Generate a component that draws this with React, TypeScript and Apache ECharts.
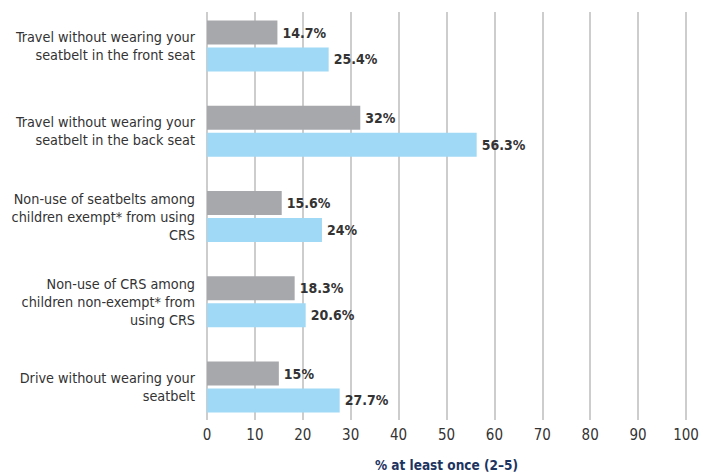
import React, { useEffect, useRef } from "react";
import * as echarts from "echarts";

const categories = [
  "Travel without wearing your\nseatbelt in the front seat",
  "Travel without wearing your\nseatbelt in the back seat",
  "Non-use of seatbelts among\nchildren exempt* from using\nCRS",
  "Non-use of CRS among\nchildren non-exempt* from\nusing CRS",
  "Drive without wearing your\nseatbelt",
];
const grayValues = [14.7, 32, 15.6, 18.3, 15];
const blueValues = [25.4, 56.3, 24, 20.6, 27.7];
const xTicks = { min: 0, max: 100, interval: 10 };
const axisTitle = "% at least once (2–5)";

const FONT = "'DejaVu Sans Condensed', 'Liberation Sans Narrow', sans-serif";

export default function App() {
  const ref = useRef<HTMLDivElement>(null);
  useEffect(() => {
    if (!ref.current) return;
    const chart = echarts.init(ref.current, null, { renderer: "svg" });
    const labelStyle = {
      show: true,
      position: "right" as const,
      distance: 5,
      fontFamily: FONT,
      fontWeight: "bold" as const,
      fontSize: 14,
      color: "#333333",
      formatter: (p: any) => `${p.value}%`,
    };
    chart.setOption({
      animation: false,
      grid: [
        { left: 207, right: 28, top: 3.4, bottom: 45.4, outerBoundsMode: "none", containLabel: false },
        { left: 207, right: 28, top: 12, bottom: 55, outerBoundsMode: "none", containLabel: false },
      ],
      xAxis: [
        {
          gridIndex: 0,
          type: "value",
          min: xTicks.min,
          max: xTicks.max,
          interval: xTicks.interval,
          show: false,
        },
        {
          gridIndex: 1,
          type: "value",
          min: xTicks.min,
          max: xTicks.max,
          interval: xTicks.interval,
          axisLine: { show: false },
          axisTick: { show: false },
          splitLine: { show: true, lineStyle: { color: "#bdbdbd", width: 1.5 } },
          axisLabel: { fontFamily: FONT, fontSize: 15, color: "#333333", margin: 7 },
          name: axisTitle,
          nameLocation: "middle",
          nameGap: 38,
          nameTextStyle: { fontFamily: FONT, fontSize: 13.5, fontWeight: "bold", color: "#1d3461" },
        },
      ],
      yAxis: [
        {
          gridIndex: 0,
          type: "category",
          data: categories,
          inverse: true,
          axisLine: { show: false },
          axisTick: { show: false },
          axisLabel: {
            fontFamily: FONT,
            fontSize: 14.3,
            color: "#333333",
            margin: 12,
            align: "right",
            lineHeight: 18,
          },
        },
        {
          gridIndex: 1,
          type: "category",
          data: categories,
          show: false,
        },
      ],
      series: [
        {
          type: "bar",
          xAxisIndex: 0,
          yAxisIndex: 0,
          data: grayValues,
          barWidth: 24,
          barGap: "12%",
          itemStyle: { color: "#a7a8ac" },
          label: labelStyle,
        },
        {
          type: "bar",
          xAxisIndex: 0,
          yAxisIndex: 0,
          data: blueValues,
          barWidth: 24,
          barGap: "12%",
          itemStyle: { color: "#a0d9f6" },
          label: labelStyle,
        },
      ],
    });
    return () => chart.dispose();
  }, []);
  return (
    <div
      ref={ref}
      style={{ position: "absolute", left: 0, top: 0, width: 714, height: 475, background: "#ffffff" }}
    />
  );
}
